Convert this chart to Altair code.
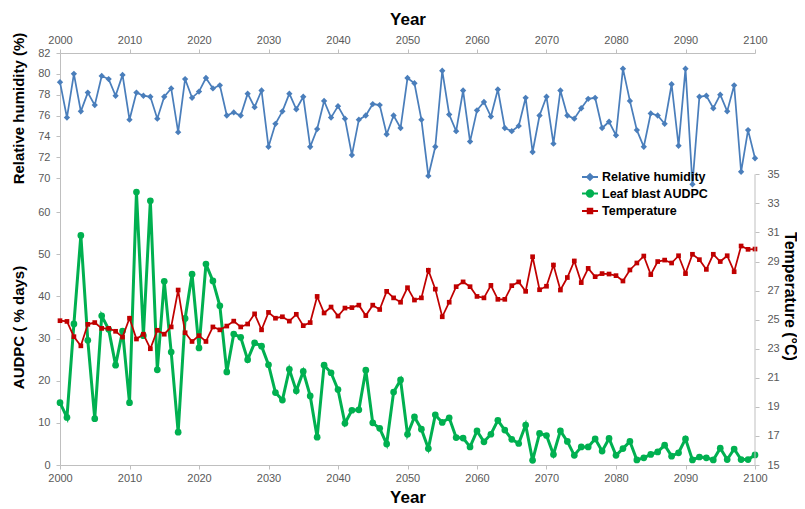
import altair as alt
import pandas as pd

years = list(range(2000, 2101))

rh = [79.2, 75.8, 80.0, 76.4, 78.2, 77.0, 79.8, 79.5, 77.9, 79.9,
      75.6, 78.2, 77.9, 77.8, 75.7, 77.8, 78.6, 74.4, 79.5, 77.7,
      78.3, 79.6, 78.6, 78.9, 76.0, 76.3, 76.0, 78.1, 76.8, 78.4,
      73.0, 75.2, 76.4, 78.1, 76.6, 77.8, 73.0, 74.7, 77.4, 75.8,
      76.9, 75.7, 72.2, 75.6, 76.0, 77.1, 77.0, 74.2, 76.0, 74.8,
      79.6, 79.1, 75.6, 70.2, 73.0, 80.3, 76.1, 74.5, 78.4, 73.5,
      76.5, 77.3, 75.9, 78.5, 74.8, 74.5, 75.0, 77.7, 72.5, 76.0,
      77.8, 73.3, 78.4, 76.0, 75.7, 76.7, 77.6, 77.7, 74.8, 75.4,
      74.1, 80.5, 77.4, 74.6, 73.0, 76.2, 76.0, 75.2, 79.0, 73.1,
      80.5, 69.4, 77.8, 77.9, 76.7, 78.0, 76.4, 78.9, 70.6, 74.6,
      71.9]

audpc = [14.8, 11.3, 33.5, 54.5, 29.6, 11.0, 35.4, 32.2, 23.7, 31.8,
         14.8, 64.8, 30.7, 62.7, 22.6, 43.6, 26.8, 7.8, 34.8, 45.3,
         27.8, 47.7, 43.7, 37.8, 22.1, 31.1, 30.3, 25.0, 29.0, 28.2,
         23.8, 17.2, 15.4, 22.7, 17.6, 22.2, 16.4, 6.6, 23.7, 21.9,
         17.9, 9.9, 13.0, 13.1, 22.5, 10.0, 8.7, 5.0, 17.3, 20.2,
         7.3, 11.4, 8.5, 3.9, 11.9, 10.1, 11.2, 6.5, 6.4, 4.3,
         8.1, 5.5, 7.3, 10.6, 8.3, 6.1, 5.1, 9.5, 1.1, 7.5,
         7.0, 2.5, 8.1, 5.6, 2.3, 4.3, 4.3, 6.2, 3.3, 6.3,
         2.3, 3.9, 5.6, 1.2, 1.7, 2.5, 3.1, 4.7, 2.1, 2.9,
         6.2, 1.2, 1.9, 1.7, 1.2, 4.0, 1.3, 3.8, 1.3, 1.3,
         2.4]

temp = [24.93, 24.88, 23.83, 23.2, 24.68, 24.8, 24.4, 24.4, 24.2, 23.8,
        25.1, 23.67, 24.0, 23.0, 24.27, 24.0, 24.5, 27.04, 24.1, 23.5,
        23.9, 23.5, 24.5, 24.3, 24.56, 24.9, 24.5, 24.7, 25.4, 24.3,
        25.5, 25.1, 25.2, 24.9, 25.37, 24.59, 24.8, 26.6, 25.46, 25.87,
        25.25, 25.8, 25.83, 26.0, 25.28, 26.0, 25.7, 26.95, 26.5, 26.2,
        27.2, 26.35, 26.5, 28.4, 27.1, 25.2, 26.2, 27.27, 27.6, 27.27,
        26.6, 26.5, 27.36, 26.4, 26.4, 27.34, 27.6, 26.95, 29.33, 27.06,
        27.3, 28.76, 27.04, 27.9, 29.04, 27.55, 28.53, 27.96, 28.17, 28.14,
        28.03, 27.66, 28.42, 28.9, 29.38, 28.1, 29.0, 29.1, 28.9, 29.4,
        28.17, 29.5, 29.13, 28.46, 29.5, 29.0, 29.4, 28.3, 30.07, 29.84,
        29.86]

year_ticks = list(range(2000, 2101, 10))
rh_ticks = [70, 72, 74, 76, 78, 80, 82]
audpc_ticks = [0, 10, 20, 30, 40, 50, 60]
temp_ticks = [15, 17, 19, 21, 23, 25, 27, 29, 31, 33, 35]

series_names = ["Relative humidity", "Leaf blast AUDPC", "Temperature"]
series_colors = ["#4a7ebb", "#00b050", "#c00000"]
legend_shapes = [
    "M-1,0L1,0M0,-0.36L0.36,0L0,0.36L-0.36,0Z",
    "M-1,0L1,0M-0.4,0A0.4,0.4,0,1,0,0.4,0A0.4,0.4,0,1,0,-0.4,0Z",
    "M-1,0L1,0M-0.28,-0.28L0.28,-0.28L0.28,0.28L-0.28,0.28Z",
]

df = pd.DataFrame({"year": years, "rh": rh, "audpc": audpc, "temp": temp})
legend_df = pd.DataFrame({"series": series_names})
axis_line_df = pd.DataFrame({"x": [max(year_ticks)], "lo": [min(temp_ticks)], "hi": [max(temp_ticks)]})

W, H = 695, 412
FONT = "Liberation Sans"

xscale = alt.Scale(domain=[2000, 2100], nice=False, zero=False)
rh_scale = alt.Scale(domain=[42.46, 82], nice=False, zero=False)
au_scale = alt.Scale(domain=[0, 97.8], nice=False, zero=False)
t_scale = alt.Scale(domain=[15, 43.35], nice=False, zero=False)

x_top = alt.Axis(orient="top", values=year_ticks, format="d", title="Year", labelFlush=False,
                 titleX=W / 2, titleY=-34, titleBaseline="middle", titleAlign="center",
                 titleFontSize=17, tickSize=4, labelPadding=4)
x_bottom = alt.Axis(orient="bottom", values=year_ticks, format="d", title="Year", labelFlush=False,
                    titleX=W / 2, titleY=32, titleBaseline="middle", titleAlign="center",
                    titleFontSize=17, tickSize=4, labelPadding=3)
y_rh = alt.Axis(orient="left", values=rh_ticks, title="Relative humidity (%)", labelFlush=False,
                titleX=-42, titleY=55, titleAngle=270, titleBaseline="middle",
                titleAlign="center", titleFontSize=15, tickSize=4, labelPadding=6)
y_au = alt.Axis(orient="left", values=audpc_ticks, domain=False, title="AUDPC ( % days)",
                labelFlush=False,
                titleX=-42, titleY=274, titleAngle=270, titleBaseline="middle",
                titleAlign="center", titleFontSize=15, tickSize=4, labelPadding=6)
y_t = alt.Axis(orient="right", values=temp_ticks, domain=False, title="Temperature (°C)",
               labelFlush=False,
               titleX=34, titleY=243, titleAngle=90, titleBaseline="middle",
               titleAlign="center", titleFontSize=16, tickSize=4, labelPadding=8)

base = alt.Chart(df)

rh_layer = alt.layer(
    base.mark_line(color=series_colors[0], strokeWidth=1.75).encode(
        x=alt.X("year:Q", scale=xscale, axis=x_top),
        y=alt.Y("rh:Q", scale=rh_scale, axis=y_rh)),
    base.mark_point(shape="diamond", filled=True, size=40, color=series_colors[0], opacity=1).encode(
        x=alt.X("year:Q", scale=xscale, axis=x_top),
        y=alt.Y("rh:Q", scale=rh_scale, axis=y_rh)),
)

au_layer = alt.layer(
    base.mark_line(color=series_colors[1], strokeWidth=3).encode(
        x=alt.X("year:Q", scale=xscale, axis=x_bottom),
        y=alt.Y("audpc:Q", scale=au_scale, axis=y_au)),
    base.mark_point(shape="circle", filled=True, size=45, color=series_colors[1], opacity=1).encode(
        x=alt.X("year:Q", scale=xscale, axis=x_bottom),
        y=alt.Y("audpc:Q", scale=au_scale, axis=y_au)),
)

t_layer = alt.layer(
    base.mark_line(color=series_colors[2], strokeWidth=1.75).encode(
        x=alt.X("year:Q", scale=xscale, axis=None),
        y=alt.Y("temp:Q", scale=t_scale, axis=y_t)),
    base.mark_point(shape="square", filled=True, size=22, color=series_colors[2], opacity=1).encode(
        x=alt.X("year:Q", scale=xscale, axis=None),
        y=alt.Y("temp:Q", scale=t_scale, axis=y_t)),
    alt.Chart(axis_line_df).mark_rule(color="#bfbfbf", strokeWidth=1).encode(
        x=alt.X("x:Q", scale=xscale, axis=None),
        y=alt.Y("lo:Q", scale=t_scale, axis=y_t),
        y2="hi:Q"),
)

leg = alt.Legend(orient="none", legendX=521, legendY=115, title=None,
                 symbolSize=256, symbolStrokeWidth=2, labelFont=FONT,
                 labelFontSize=12.5, labelFontWeight="bold", labelColor="#000000",
                 rowPadding=0.5, labelOffset=3)

legend_layer = alt.Chart(legend_df).transform_filter(
    "datum.series == 'none'"
).mark_point(filled=True, opacity=1, strokeWidth=2).encode(
    x=alt.value(0), y=alt.value(0),
    fill=alt.Fill("series:N", scale=alt.Scale(domain=series_names, range=series_colors), legend=leg),
    stroke=alt.Stroke("series:N", scale=alt.Scale(domain=series_names, range=series_colors), legend=leg),
    shape=alt.Shape("series:N", scale=alt.Scale(domain=series_names, range=legend_shapes), legend=leg),
)

chart = alt.layer(rh_layer, au_layer, t_layer, legend_layer).resolve_scale(
    x="independent", y="independent"
).properties(
    width=W, height=H,
    padding={"left": 52, "top": 45, "right": 42, "bottom": 40},
    autosize=alt.AutoSizeParams(type="none"),
).configure_view(stroke="transparent").configure_axis(
    labelFont=FONT, labelFontSize=11, labelColor="#595959",
    titleFont=FONT, titleFontWeight="bold", titleColor="#000000",
    domainColor="#bfbfbf", tickColor="#bfbfbf", grid=False,
)

chart.save("out.html", embed_options={"renderer": "svg", "actions": False})
